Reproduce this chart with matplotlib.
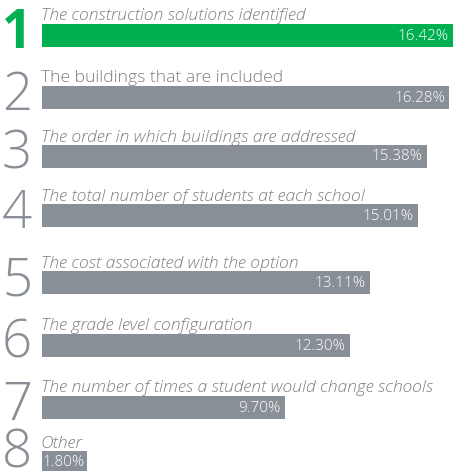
import matplotlib
matplotlib.use("Agg")
import matplotlib.pyplot as plt

# ---- data ----
ranks = ["1", "2", "3", "4", "5", "6", "7", "8"]
labels = [
    "The construction solutions identified",
    "The buildings that are included",
    "The order in which buildings are addressed",
    "The total number of students at each school",
    "The cost associated with the option",
    "The grade level configuration",
    "The number of times a student would change schools",
    "Other",
]
values = [16.42, 16.28, 15.38, 15.01, 13.11, 12.30, 9.70, 1.80]
value_labels = ["16.42%", "16.28%", "15.38%", "15.01%", "13.11%", "12.30%", "9.70%", "1.80%"]
italic = [True, False, True, True, True, True, True, True]

# ---- layout ----
W, H = 454, 471
row_y = [35, 97, 156, 215.5, 282.5, 345, 407, 462]   # bar centres (px from top)
bar_h = 23
left_px = 41.5
px_per_unit = (453 - left_px) / values[0]
green = "#00B050"
grey = "#898F96"
text_grey = "#7F7F7F"
FONT = ["Open Sans", "DejaVu Sans"]

fig = plt.figure(figsize=(W / 100, H / 100), dpi=100)
ax = fig.add_axes([0, 0, 1, 1])
ax.set_xlim(-left_px / px_per_unit, (W - left_px) / px_per_unit)
ax.set_ylim(H, 0)
ax.axis("off")

def px(x):
    return (x - left_px) / px_per_unit

colors = [green] + [grey] * (len(values) - 1)
ax.barh(row_y, values, height=bar_h, color=colors, left=0)

for i, (r, lab, v, vl) in enumerate(zip(ranks, labels, values, value_labels)):
    yc = row_y[i]
    top = yc - bar_h / 2
    bottom = yc + bar_h / 2
    ax.text(px(17), min(bottom + 1, 468), r, ha="center", va="baseline", fontsize=38,
            color=green if i == 0 else grey, family=FONT,
            fontweight="bold" if i == 0 else "light")
    ax.text(px(41), top - 3, lab, ha="left", va="baseline", fontsize=12.6,
            color=text_grey, family=FONT, fontweight="light",
            style="italic" if italic[i] else "normal")
    if v * px_per_unit < 60:
        ax.text(1 / px_per_unit, yc + 1, vl, ha="left", va="center", fontsize=11,
                color="white", family=FONT, fontweight="light")
    else:
        ax.text(v - 4 / px_per_unit, yc + 1, vl, ha="right", va="center", fontsize=11,
                color="white", family=FONT, fontweight="light")

fig.savefig("out.png", dpi=100)
